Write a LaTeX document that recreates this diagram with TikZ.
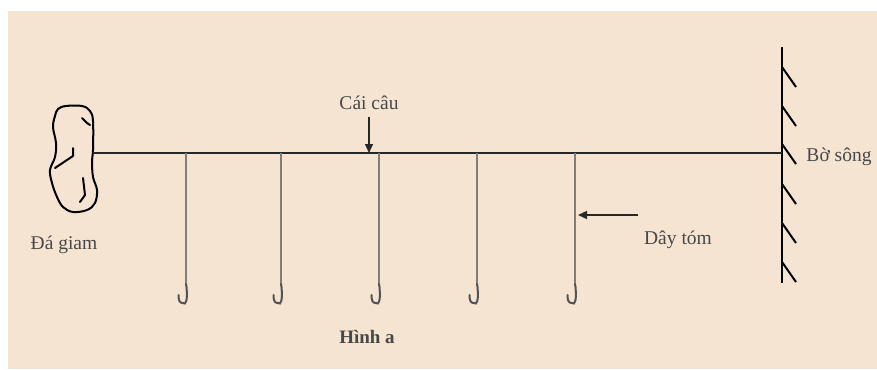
\documentclass[tikz,border=0pt]{standalone}
\usepackage{fontspec}
\setmainfont{Liberation Serif}
\usetikzlibrary{arrows.meta}
\definecolor{paper}{RGB}{245,228,209}
\definecolor{ink}{RGB}{40,40,40}
\definecolor{cord}{RGB}{130,125,118}
\tikzset{
  lbl/.style={text=ink!85, font=\fontsize{19.5}{22}\selectfont, inner sep=0pt},
  mainline/.style={draw=ink, line width=2pt},
  dropline/.style={draw=cord, line width=1.5pt},
  hookline/.style={draw=ink!80, line width=2pt, line cap=round},
  bankline/.style={draw=black, line width=2.2pt},
  hatchline/.style={draw=black, line width=2pt},
  rockline/.style={draw=black, line width=2pt, line join=round, line cap=round},
  pointer/.style={draw=ink, line width=1.4pt, -{Triangle[length=9pt,width=8pt]}},
}
\begin{document}
\begin{tikzpicture}[x=1pt,y=-1pt]
  \useasboundingbox (0,0) rectangle (877,369);
  \fill[white] (0,0) rectangle (877,369);
  \fill[paper] (8,11) rectangle (877,369);

  % the anchoring stone
  \draw[rockline] plot[smooth cycle, tension=0.6] coordinates {
    (58,109) (66,106) (82,106) (90,111) (93,121) (93,150) (92,161)
    (93,177) (97,190) (95,203) (87,210) (73,212) (63,207) (57,197)
    (52,183) (50,170) (55,157) (56,143) (53,127) (55,116)};
  \draw[rockline] (82,118) -- (87,123) -- (90,125);
  \draw[rockline] (73,148) -- (73,156) -- (55,168);
  \draw[rockline] (83,178) -- (85,195) -- (80,202);
  \coordinate (rock) at (93,153);
  \node[lbl] (stone) at (64,245) {Đá giam};

  % river bank with hatching
  \coordinate (banktop) at (782,47);
  \coordinate (bankbot) at (782,283);
  \coordinate (bank) at (782,153);
  \draw[bankline] (banktop) -- (bankbot);
  \foreach \y [count=\i] in {67,106,144,184,223,262} {
    \coordinate (h\i) at (782,\y);
    \draw[hatchline] (h\i) -- ++(14,20);
  }
  \node[lbl] (shore) at (839,157) {Bờ sông};

  % main line and droppers with hooks
  \draw[mainline] (rock) -- (bank);
  \foreach \x [count=\i] in {186,281,379,477,575} {
    \coordinate (top\i) at (\x,153);
    \coordinate (end\i) at (\x,284);
    \draw[dropline] (top\i) -- (end\i);
    \draw[hookline] (end\i) -- ++(0.5,3) .. controls ++(1,12) and ++(4,3) .. ++(-4,16)
      .. controls ++(-3,0) and ++(0,5) .. ++(-4,-8);
  }

  % labels with pointers
  \node[lbl] (hook) at (369,103) {Cái câu};
  \coordinate (hooktip) at (369,153);
  \draw[pointer] (369,117) -- (hooktip);

  \node[lbl] (cordlbl) at (678,240) {Dây tóm};
  \coordinate (cordstart) at (638,215);
  \coordinate (cordtip) at (578,215);
  \draw[pointer] (cordstart) -- (cordtip);

  \node[lbl, font=\fontsize{19}{22}\selectfont\bfseries] (caption) at (367,337) {Hình a};
\end{tikzpicture}
\end{document}
